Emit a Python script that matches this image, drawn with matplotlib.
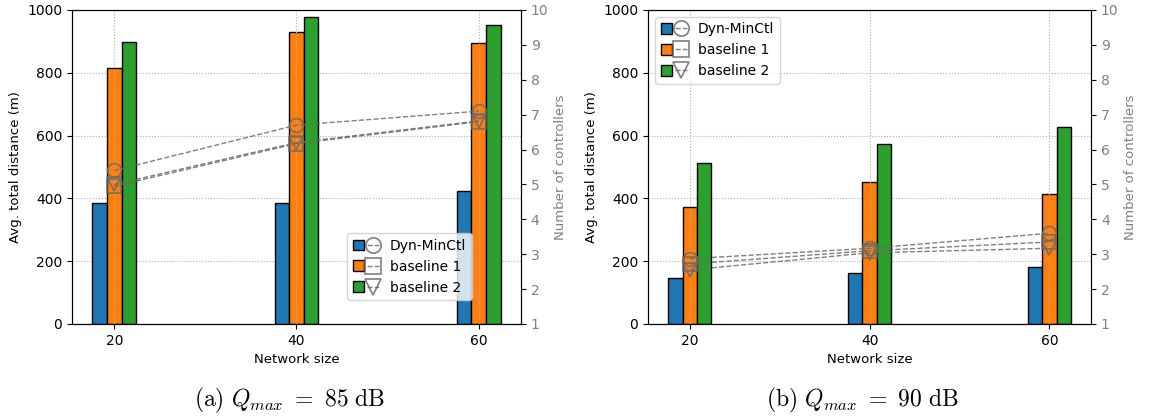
import matplotlib
matplotlib.use("Agg")
import matplotlib.pyplot as plt
import numpy as np
from matplotlib.legend_handler import HandlerTuple
from matplotlib.patches import Patch
from matplotlib.lines import Line2D

plt.rcParams["mathtext.fontset"] = "cm"

sizes = [20, 40, 60]
labels = ["Dyn-MinCtl", "baseline 1", "baseline 2"]
colors = ["tab:blue", "tab:orange", "tab:green"]
markers = ["o", "s", "v"]

# avg. total distance (m), left axis
dist_85 = [[386, 384, 423], [816, 931, 896], [899, 979, 952]]
dist_90 = [[148, 162, 181], [371, 452, 415], [512, 573, 626]]

# number of controllers, right axis
ctl_85 = [[5.4, 6.7, 7.1], [4.95, 6.17, 6.8], [5.0, 6.2, 6.82]]
ctl_90 = [[2.87, 3.17, 3.6], [2.72, 3.1, 3.35], [2.55, 3.04, 3.17]]

captions = [r"$\mathrm{(a)}\ Q_{max}\ =\ 85\ \mathrm{dB}$",
            r"$\mathrm{(b)}\ Q_{max}\ =\ 90\ \mathrm{dB}$"]

fig = plt.figure(figsize=(11.49, 4.18), dpi=100)
positions = [[0.0627, 0.2249, 0.3907, 0.7512], [0.564, 0.2249, 0.3856, 0.7512]]
width = 1.6
x = np.array(sizes)
grid_kw = dict(linestyle=":", color="#b0b0b0", linewidth=0.8)


def panel(rect, dist, ctl, caption, legend_kw):
    ax = fig.add_axes(rect)
    ax2 = ax.twinx()
    for i in range(3):
        ax.bar(x + (i - 1) * width, dist[i], width, color=colors[i],
               edgecolor="black", linewidth=1)
    ax.set_ylim(0, 1000)
    ax.set_xticks(sizes)
    ax.grid(True, **grid_kw)
    ax.set_axisbelow(True)
    # vertical grid lines sit over the bars, horizontal ones under them
    ax.xaxis.set_zorder(2.5)
    ax.set_xlabel("Network size", fontsize=9.5)
    ax.set_ylabel("Avg. total distance (m)", fontsize=9.5)
    ax.tick_params(labelsize=10)

    for i in range(3):
        ax2.plot(x, ctl[i], linestyle="--", color="dimgray", marker=markers[i],
                 markersize=10, markerfacecolor="none", markeredgewidth=1.2,
                 linewidth=1, alpha=0.85)
    ax2.set_ylim(1, 10)
    ax2.set_yticks(range(1, 11))
    ax2.set_ylabel("Number of controllers", fontsize=9.5, color="gray")
    ax2.tick_params(axis="y", labelsize=10, labelcolor="gray")

    handles = []
    for i in range(3):
        p = Patch(facecolor=colors[i], edgecolor="black")
        ln = Line2D([], [], linestyle="--", color="dimgray", marker=markers[i],
                    markersize=11, markerfacecolor="none", markeredgewidth=1.2,
                    linewidth=1, alpha=0.85)
        handles.append((p, ln))
    ax2.legend(handles, labels, handler_map={tuple: HandlerTuple(ndivide=None, pad=0.2)},
               handlelength=1.9, handleheight=0.8, fontsize=10, **legend_kw)

    cx = rect[0] + rect[2] / 2
    fig.text(cx - 0.006, 0.042, caption, ha="center", va="center", fontsize=17)


panel(positions[0], dist_85, ctl_85, captions[0],
      dict(loc="lower right", bbox_to_anchor=(0.891, 0.076), borderaxespad=0))
panel(positions[1], dist_90, ctl_90, captions[1], dict(loc="upper left"))

fig.savefig("out.png", dpi=100)
